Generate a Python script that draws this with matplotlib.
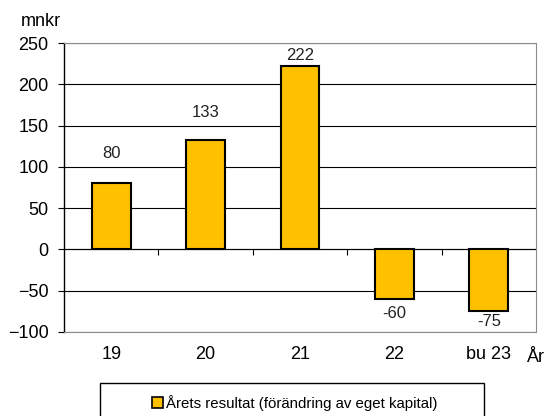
import matplotlib
matplotlib.use("Agg")
import matplotlib.pyplot as plt
from matplotlib.patches import Rectangle, Patch

plt.rcParams['font.family'] = ['Liberation Sans', 'DejaVu Sans']

# data
years = ["19", "20", "21", "22", "bu 23"]
resultat = [80, 133, 222, -60, -75]
legend_label = "Årets resultat (förändring av eget kapital)"

# label offsets (points) as placed in the original
label_offsets = [16, 14, 2, -5, -2]

bar_color = "#FFC000"

fig = plt.figure(figsize=(5.48, 4.16), dpi=100)
ax = fig.add_axes([64/548, 1 - 332/416, 472/548, 289/416])

x = list(range(len(years)))
ax.bar(x, resultat, width=0.41, color=bar_color, edgecolor="black", linewidth=1.5, zorder=3)

# value labels
for xi, v, off in zip(x, resultat, label_offsets):
    ax.annotate(str(v), (xi, v), xytext=(0, off), textcoords="offset points",
                ha="center", va="bottom" if v >= 0 else "top", fontsize=12,
                color="#222222")

ax.set_xlim(-0.5, len(years) - 0.5)
ax.set_ylim(-100, 250)
ax.set_yticks(range(-100, 251, 50))
ax.grid(axis="y", color="black", linewidth=0.8, zorder=0)
ax.set_axisbelow(True)

ax.set_xticks(x)
ax.set_xticklabels(years, fontsize=13)
ax.tick_params(axis="x", length=0, pad=10)
ax.tick_params(axis="y", labelsize=13, length=4, width=0.8, direction="out", pad=7)

for side in ["top", "right", "bottom"]:
    ax.spines[side].set_color("#8c8c8c")
ax.spines["left"].set_color("black")
ax.spines["left"].set_linewidth(1)

# zero line axis with category separators
zero_frac = (0 - (-100)) / 350
sec = ax.secondary_xaxis(zero_frac)
sec.set_xticks([i + 0.5 for i in range(len(years) - 1)])
sec.set_xticklabels([])
sec.xaxis.set_ticks_position("bottom")
sec.tick_params(axis="x", direction="out", length=4, width=0.8)
sec.spines["bottom"].set_color("black")
sec.spines["bottom"].set_linewidth(0.8)
sec.spines["top"].set_visible(False)

fig.text(21/548, 1 - 22/416, "mnkr", fontsize=13, va="center", ha="left")
fig.text(527/548, 1 - 357/416, "År", fontsize=13, va="center", ha="left")

# legend
fig.patches.append(Rectangle((100/548, -0.05), 384/548, 1 - 383/416 + 0.05,
                             transform=fig.transFigure, fill=False,
                             edgecolor="black", linewidth=1))
handle = Patch(facecolor=bar_color, edgecolor="black", linewidth=1.2)
fig.legend([handle], [legend_label], loc="center", bbox_to_anchor=(295/548, 1 - 403/416),
           frameon=False, fontsize=10.8, handlelength=0.75, handleheight=0.75,
           handletextpad=0.2, borderpad=0)

fig.savefig("out.png", dpi=100)
